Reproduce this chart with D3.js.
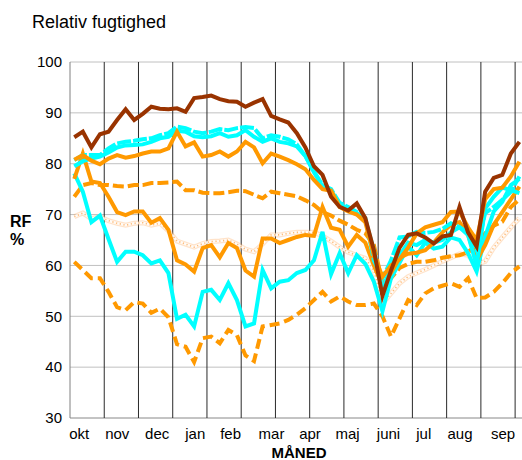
<!DOCTYPE html>
<html>
<head>
<meta charset="utf-8">
<script src="https://cdn.jsdelivr.net/npm/d3@7"></script>
<style>
  html, body { margin: 0; padding: 0; background: #fff; }
  svg { display: block; font-family: "Liberation Sans", Arial, sans-serif; }
</style>
</head>
<body>
<svg id="chart" width="522" height="460"></svg>
<script>
// ---- data (weekly values, okt .. sep, 53 weeks) ----
const months = ["okt","nov","dec","jan","feb","mar","apr","maj","juni","jul","aug","sep"];
const monthLabelWeek = [0.52, 4.96, 9.63, 14.08, 18.2, 22.98, 27.48, 31.86, 36.65, 40.77, 45.0, 50.03];
const yTicks = [30, 40, 50, 60, 70, 80, 90, 100];

const brownMax = [85.2,86.3,83.2,85.8,86.3,88.6,90.7,88.6,89.8,91.2,90.8,90.7,90.9,90.2,92.9,93.1,93.4,92.7,92.3,92.2,91.2,92.0,92.7,89.4,88.7,88.1,86.0,83.2,79.5,77.8,73.5,71.5,70.8,72.2,69.3,63.0,54.0,59.0,63.5,66.0,66.3,65.5,64.3,65.7,66.0,71.5,66.5,63.7,74.5,77.2,77.8,82.0,84.3];
const orangeHigh = [80.8,81.7,80.6,79.9,81.0,81.7,81.2,81.5,82.0,82.4,82.4,83.0,86.3,83.4,84.2,81.4,81.7,82.4,81.4,82.4,84.3,83.2,80.1,82.0,81.4,80.7,79.9,78.9,76.8,75.0,74.7,71.5,70.6,70.0,68.5,62.0,57.8,60.0,61.2,63.5,66.3,67.5,68.0,68.5,70.5,70.6,67.5,65.0,73.0,75.0,75.3,77.5,80.4];
const orangeDashHigh = [73.5,75.8,76.2,75.8,75.8,75.6,75.5,75.8,75.8,76.2,76.2,76.3,76.5,74.8,74.8,74.3,74.2,74.2,74.4,74.7,74.6,73.9,73.2,74.5,74.2,73.9,73.6,72.8,71.9,70.5,69.8,68.8,68.0,67.0,66.3,64.0,56.5,57.5,59.5,60.3,60.7,60.7,61.0,61.5,61.8,62.0,62.6,64.0,66.3,67.8,68.6,71.5,73.0];
const orangeMid = [77.0,82.0,76.5,76.2,73.5,70.5,69.9,70.6,70.6,68.4,69.3,67.0,61.0,60.2,58.8,63.4,64.0,61.6,64.4,63.4,59.0,57.8,65.3,65.3,64.4,65.0,65.6,66.0,65.8,71.5,67.4,67.0,63.7,66.0,64.5,60.0,56.0,58.5,61.5,62.3,62.5,63.0,64.5,66.5,68.0,68.5,66.0,61.0,64.0,68.0,70.5,73.0,75.5];
const orangeNormal = [69.6,70.3,69.2,69.6,68.8,68.3,67.9,68.3,68.4,67.9,68.3,66.8,64.8,64.2,63.6,64.3,64.7,64.8,65.0,64.2,63.2,62.7,64.2,66.0,66.0,66.3,66.5,66.5,66.5,65.8,64.8,63.6,62.6,62.0,61.4,59.0,52.5,54.5,56.5,57.8,58.5,59.2,60.0,60.8,61.5,62.3,62.0,60.2,60.8,63.5,65.5,67.5,69.3];
const orangeDashLow = [60.7,59.1,57.5,57.5,54.8,51.8,51.2,52.8,52.5,50.7,51.5,49.8,44.5,44.0,41.0,45.7,46.0,44.7,47.3,46.3,42.3,41.2,48.0,48.3,48.6,49.3,50.3,51.6,53.2,54.8,52.9,53.9,52.9,52.2,52.2,52.5,50.0,46.0,49.6,53.2,52.2,54.5,55.5,56.0,56.5,55.8,57.5,53.6,53.7,54.8,56.5,58.5,59.8];
const cyanTopA = [80.7,81.7,81.7,81.7,83.0,84.0,84.3,84.5,84.8,85.0,85.6,86.0,87.3,87.0,86.3,86.0,86.3,86.8,86.6,87.0,87.2,87.0,85.0,85.6,85.3,84.8,83.8,81.5,78.5,75.8,75.0,72.3,71.5,70.5,69.3,61.0,57.5,61.0,65.5,65.7,66.6,66.4,66.6,67.2,68.3,67.5,66.5,63.0,70.3,71.5,72.9,74.5,77.5];
const cyanTopB = [79.5,80.5,81.0,81.4,82.2,83.2,83.6,83.7,83.8,84.3,85.0,85.3,86.5,86.3,85.4,85.2,85.4,86.0,85.3,85.6,86.6,85.3,84.3,85.0,84.3,84.0,83.4,81.5,78.3,75.5,74.7,72.0,71.2,70.3,69.0,63.0,55.0,60.0,62.0,64.5,64.0,65.0,64.5,65.0,66.5,67.5,66.0,60.0,71.2,73.5,75.3,74.8,74.2];
const cyanLow = [78.1,74.5,68.5,69.8,65.2,60.7,62.7,62.7,62.0,60.4,61.0,58.5,49.5,50.3,48.0,54.8,55.2,53.2,56.5,53.2,48.0,48.6,59.1,55.5,56.8,57.1,58.5,59.1,61.0,66.6,58.3,62.4,58.5,62.0,60.3,56.8,51.0,57.5,60.5,63.7,62.0,64.5,63.3,63.7,65.5,65.0,62.4,58.8,65.7,70.6,72.5,75.8,77.0];

// ---- layout ----
const svg = d3.select("#chart");
const plotLeft = 70, plotTop = 62, plotBottom = 418;
const weekW = 8.56;
const x = d3.scaleLinear().domain([0, 53]).range([plotLeft, plotLeft + 53 * weekW]);
const y = d3.scaleLinear().domain([30, 100]).range([plotBottom, plotTop]);
const nWeeks = brownMax.length;
const gridWeeks = d3.range(0, nWeeks, 4);

svg.append("text").attr("x", 32).attr("y", 28).attr("font-size", 18).attr("fill", "#000")
  .text("Relativ fugtighed");

// horizontal gridlines
svg.append("g").selectAll("line").data(yTicks).join("line")
  .attr("x1", plotLeft).attr("x2", 522)
  .attr("y1", d => y(d)).attr("y2", d => y(d))
  .attr("stroke", d => d === 30 ? "#888" : "#c0c0c0").attr("stroke-width", 1);

// vertical gridlines
svg.append("g").selectAll("line").data(gridWeeks).join("line")
  .attr("x1", d => x(d)).attr("x2", d => x(d))
  .attr("y1", plotTop).attr("y2", plotBottom)
  .attr("stroke", d => d === 0 ? "#808080" : "#2a2a2a").attr("stroke-width", 1);

// y axis
const yAxis = svg.append("g").attr("transform", `translate(${plotLeft},0)`)
  .call(d3.axisLeft(y).tickValues(yTicks).tickSize(0).tickPadding(8));
yAxis.select(".domain").remove();
yAxis.selectAll("text").attr("font-size", 15).attr("fill", "#000")
  .attr("font-family", "Liberation Sans, Arial, sans-serif");

// x axis labels
const xAxis = svg.append("g").attr("transform", `translate(0,${plotBottom})`)
  .call(d3.axisBottom(x).tickValues(monthLabelWeek.map(w => w + 0.5)).tickFormat((d, i) => months[i]).tickSize(0).tickPadding(10));
xAxis.select(".domain").remove();
xAxis.selectAll("text").attr("font-size", 15).attr("fill", "#000")
  .attr("font-family", "Liberation Sans, Arial, sans-serif");

svg.append("text").attr("x", 299).attr("y", 458).attr("text-anchor", "middle")
  .attr("font-size", 15).attr("font-weight", "bold").text("MÅNED");
svg.append("text").attr("x", 10).attr("y", 227).attr("font-size", 16).attr("font-weight", "bold").text("RF");
svg.append("text").attr("x", 10).attr("y", 245).attr("font-size", 16).attr("font-weight", "bold").text("%");

// lines
const line = d3.line()
  .defined(d => d != null)
  .x((d, i) => x(i + 0.5))
  .y(d => y(d));

const plot = svg.append("g");
function draw(data, color, width, dash, opacity) {
  plot.append("path").datum(data)
    .attr("d", line)
    .attr("fill", "none")
    .attr("stroke", color)
    .attr("stroke-width", width)
    .attr("stroke-linejoin", "miter")
    .attr("stroke-dasharray", dash || null)
    .attr("opacity", opacity == null ? 1 : opacity);
}

// normal (dotted band)
draw(orangeNormal, "#ffb066", 5, null, 0.35);
draw(orangeNormal, "#ffffff", 2.6, null, 0.85);
draw(orangeNormal, "#ffa040", 1.6, "1.2,2.6", 0.7);

draw(orangeDashLow, "#ff9900", 4, "10,5");
draw(orangeDashHigh, "#ff9900", 4, "11,4");
draw(cyanLow, "#00ffff", 4);
draw(orangeMid, "#ff9900", 4);
draw(cyanTopB, "#00ffff", 4);
draw(cyanTopA, "#00ffff", 4, "14,2");
draw(orangeHigh, "#ff9900", 4);
draw(brownMax, "#993300", 4);
</script>
</body>
</html>
